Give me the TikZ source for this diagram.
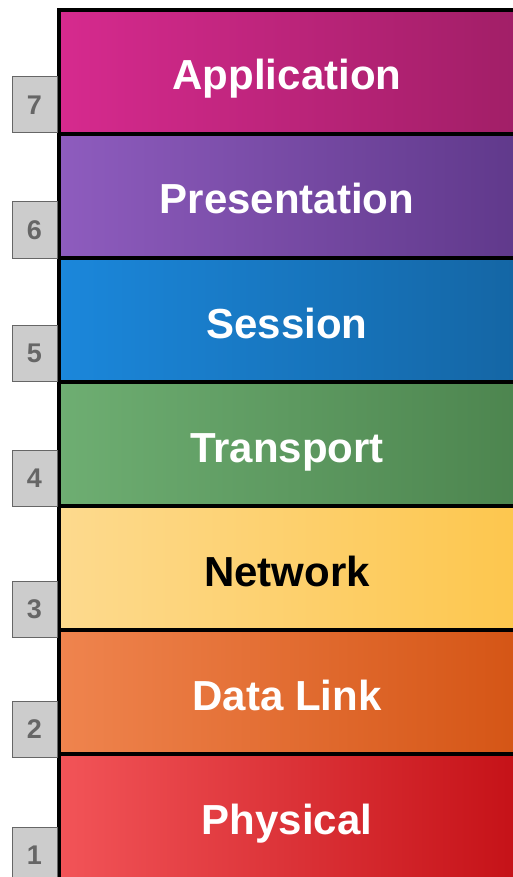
\documentclass[tikz,border=0pt]{standalone}
\usepackage{fontspec}
\setmainfont{Liberation Sans}
\definecolor{appL}{HTML}{D62A8E}\definecolor{appR}{HTML}{A01E66}
\definecolor{preL}{HTML}{8E5CBE}\definecolor{preR}{HTML}{5F388A}
\definecolor{sesL}{HTML}{1B87DB}\definecolor{sesR}{HTML}{1465A3}
\definecolor{traL}{HTML}{6EAE72}\definecolor{traR}{HTML}{4C844E}
\definecolor{netL}{HTML}{FDDA8E}\definecolor{netR}{HTML}{FDC64C}
\definecolor{datL}{HTML}{EF844E}\definecolor{datR}{HTML}{D45414}
\definecolor{phyL}{HTML}{F25458}\definecolor{phyR}{HTML}{C41016}
\definecolor{boxfill}{HTML}{CCCCCC}
\definecolor{boxline}{HTML}{666666}
\tikzset{
  band/.style={draw=black, line width=3.5pt, minimum width=470pt, minimum height=124pt,
    inner sep=0pt},
  lbl/.style={anchor=base, inner sep=0pt, text=white,
    font=\fontsize{42}{42}\selectfont\bfseries},
  numbox/.style={draw=boxline, line width=1pt, fill=boxfill, minimum width=45pt,
    minimum height=56pt, inner sep=0pt, text=boxline,
    font=\fontsize{27}{27}\selectfont\bfseries}
}
\begin{document}
\begin{tikzpicture}[x=1pt,y=-1pt]
\useasboundingbox (0,0) rectangle (512,877);
\node[band, left color=phyL, right color=phyR, minimum height=128pt] (l1) at (294,818) {};
\node[band, left color=datL, right color=datR] (l2) at (294,692) {};
\node[band, left color=netL, right color=netR] (l3) at (294,568) {};
\node[band, left color=traL, right color=traR] (l4) at (294,444) {};
\node[band, left color=sesL, right color=sesR] (l5) at (294,320) {};
\node[band, left color=preL, right color=preR] (l6) at (294,196) {};
\node[band, left color=appL, right color=appR] (l7) at (294,72) {};
\node[lbl] (t1) at (287,834) {Physical};
\node[lbl] (t2) at (287,710) {Data Link};
\node[lbl, text=black] (t3) at (287,586) {Network};
\node[lbl] (t4) at (287,462) {Transport};
\node[lbl] (t5) at (287,338) {Session};
\node[lbl] (t6) at (287,214) {Presentation};
\node[lbl] (t7) at (287,90) {Application};
\node[numbox] (n7) at (34.5,105) {7};
\node[numbox] (n6) at (34.5,230) {6};
\node[numbox] (n5) at (34.5,353) {5};
\node[numbox] (n4) at (34.5,478) {4};
\node[numbox] (n3) at (34.5,609) {3};
\node[numbox] (n2) at (34.5,729) {2};
\node[numbox] (n1) at (34.5,855) {1};
\end{tikzpicture}
\end{document}
